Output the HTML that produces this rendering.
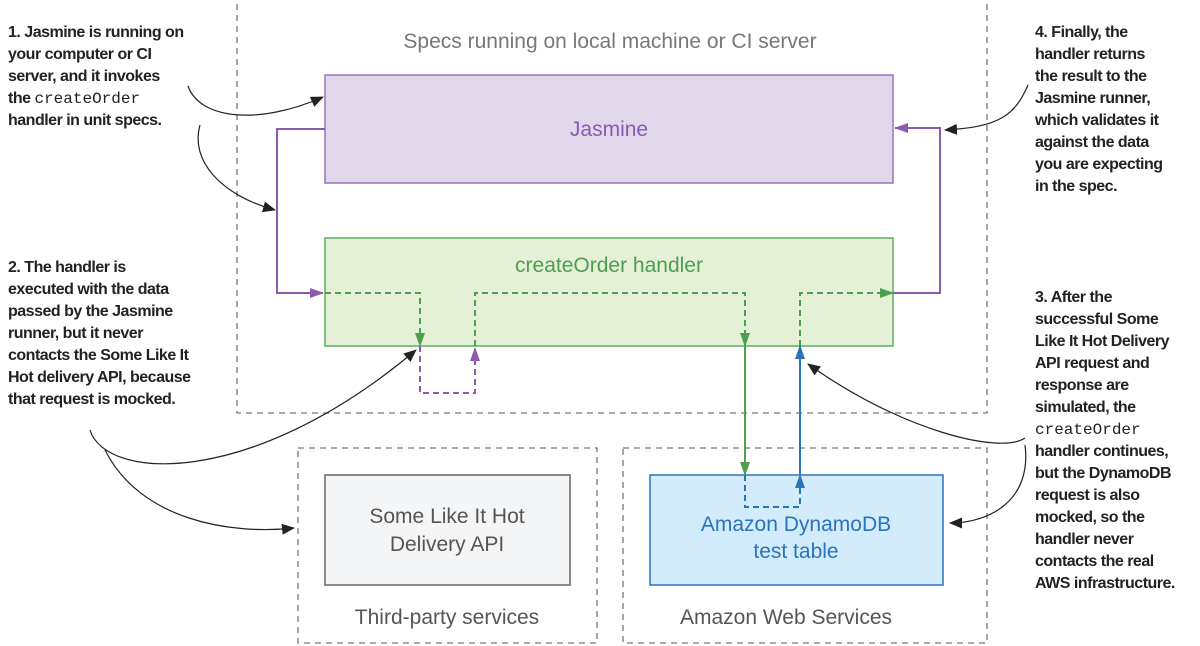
<!DOCTYPE html>
<html><head><meta charset="utf-8"><style>
body{margin:0;width:1200px;height:646px;background:#fff;position:relative;overflow:hidden;font-family:"Liberation Sans",sans-serif}
.n{position:absolute;font-weight:bold;font-size:16px;line-height:22px;color:#222;letter-spacing:-0.5px}
.n code{font-family:"Liberation Mono",monospace;font-weight:normal;font-size:16px;letter-spacing:0}
</style></head><body>
<svg width="1200" height="646" style="position:absolute;left:0;top:0" font-family="Liberation Sans, sans-serif">
<defs>
<marker id="ap" markerWidth="14" markerHeight="10" refX="13" refY="5" orient="auto" markerUnits="userSpaceOnUse"><path d="M0,0L14,5L0,10z" fill="#8a5bb0"/></marker>
<marker id="ag" markerWidth="14" markerHeight="10" refX="13" refY="5" orient="auto" markerUnits="userSpaceOnUse"><path d="M0,0L14,5L0,10z" fill="#4e9e50"/></marker>
<marker id="ab" markerWidth="14" markerHeight="10" refX="13" refY="5" orient="auto" markerUnits="userSpaceOnUse"><path d="M0,0L14,5L0,10z" fill="#2a73bf"/></marker>
<marker id="ak" markerWidth="13" markerHeight="11" refX="12" refY="5.5" orient="auto" markerUnits="userSpaceOnUse"><path d="M0,0L13,5.5L0,11z" fill="#222"/></marker>
</defs>
<g fill="none" stroke="#777" stroke-width="1.3" stroke-dasharray="6,5">
<rect x="237" y="-5" width="750" height="418"/>
<rect x="298" y="448" width="299" height="195"/>
<rect x="623" y="448" width="364" height="195"/>
</g>
<text x="610" y="48" font-size="21" fill="#777" text-anchor="middle">Specs running on local machine or CI server</text>
<rect x="325" y="75" width="568" height="108" fill="#e0d7eb" stroke="#9b72c0" stroke-width="1.5"/>
<text x="609" y="136" font-size="21" fill="#8a5bb0" text-anchor="middle">Jasmine</text>
<rect x="325" y="238" width="568" height="108" fill="#e5f1d6" stroke="#5fad5f" stroke-width="1.5"/>
<text x="609" y="272" font-size="21" fill="#4e9e50" text-anchor="middle">createOrder handler</text>
<rect x="325" y="475" width="245" height="110" fill="#f4f5f6" stroke="#666" stroke-width="1.5"/>
<text x="447" y="523" font-size="21" fill="#555" text-anchor="middle">Some Like It Hot</text>
<text x="447" y="551" font-size="21" fill="#555" text-anchor="middle">Delivery API</text>
<text x="447" y="624" font-size="21" fill="#555" text-anchor="middle">Third-party services</text>
<rect x="650" y="475" width="293" height="110" fill="#d3ecfb" stroke="#2a73bf" stroke-width="1.5"/>
<text x="796" y="531" font-size="21" fill="#2a73bf" text-anchor="middle">Amazon DynamoDB</text>
<text x="796" y="558" font-size="21" fill="#2a73bf" text-anchor="middle">test table</text>
<text x="786" y="624" font-size="21" fill="#555" text-anchor="middle">Amazon Web Services</text>
<g fill="none" stroke-width="2">
<path d="M325,129H277V293H323" stroke="#8a5bb0" marker-end="url(#ap)"/>
<path d="M893,293H940V128H895" stroke="#8a5bb0" marker-end="url(#ap)"/>
<path d="M420,346V393H475V348" stroke="#8a5bb0" stroke-dasharray="6,4" marker-end="url(#ap)"/>
<path d="M325,293H420V346" stroke="#4e9e50" stroke-dasharray="6,4" marker-end="url(#ag)"/>
<path d="M475,346V293H745V346" stroke="#4e9e50" stroke-dasharray="6,4" marker-end="url(#ag)"/>
<path d="M745,346V475" stroke="#4e9e50" marker-end="url(#ag)"/>
<path d="M800,346V293H893" stroke="#4e9e50" stroke-dasharray="6,4" marker-end="url(#ag)"/>
<path d="M745,475V507H800V475" stroke="#2a73bf" stroke-dasharray="6,4" marker-end="url(#ab)"/>
<path d="M800,475V346" stroke="#2a73bf" marker-end="url(#ab)"/>
</g>
<g fill="none" stroke="#222" stroke-width="1.2">
<path d="M188,86C200,120 260,125 323,97" marker-end="url(#ak)"/>
<path d="M200,125C190,160 220,195 275,210" marker-end="url(#ak)"/>
<path d="M90,430C105,480 250,490 416,350" marker-end="url(#ak)"/>
<path d="M105,450C140,520 230,535 294,528" marker-end="url(#ak)"/>
<path d="M1028,85C1015,115 1000,127 945,130" marker-end="url(#ak)"/>
<path d="M1025,438C1000,455 900,430 808,364" marker-end="url(#ak)"/>
<path d="M1025,445C1032,500 990,523 950,523" marker-end="url(#ak)"/>
</g>
</svg>
<div class="n" style="left:8px;top:22px;width:200px">1. Jasmine is running on<br>your computer or CI<br>server, and it invokes<br>the <code>createOrder</code><br>handler in unit specs.</div>
<div class="n" style="left:8px;top:257px;width:220px">2. The handler is<br>executed with the data<br>passed by the Jasmine<br>runner, but it never<br>contacts the Some Like It<br>Hot delivery API, because<br>that request is mocked.</div>
<div class="n" style="left:1035px;top:22px;width:165px">4. Finally, the<br>handler returns<br>the result to the<br>Jasmine runner,<br>which validates it<br>against the data<br>you are expecting<br>in the spec.</div>
<div class="n" style="left:1035px;top:287px;width:165px">3. After the<br>successful Some<br>Like It Hot Delivery<br>API request and<br>response are<br>simulated, the<br><code>createOrder</code><br>handler continues,<br>but the DynamoDB<br>request is also<br>mocked, so the<br>handler never<br>contacts the real<br>AWS infrastructure.</div>
</body></html>
